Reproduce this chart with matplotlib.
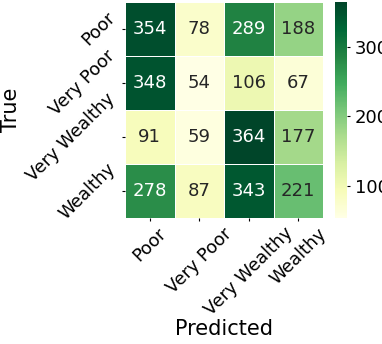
import matplotlib
matplotlib.use("Agg")
import matplotlib.pyplot as plt
import seaborn as sns
import numpy as np

labels = ["Poor", "Very Poor", "Very Wealthy", "Wealthy"]
row_poor = [354, 78, 289, 188]
row_very_poor = [348, 54, 106, 67]
row_very_wealthy = [91, 59, 364, 177]
row_wealthy = [278, 87, 343, 221]
matrix = np.array([row_poor, row_very_poor, row_very_wealthy, row_wealthy])

fig = plt.figure(figsize=(3.82, 3.44), dpi=100)
ax = fig.add_axes([125 / 382, 1 - 218 / 344, 198 / 382, 216 / 344])
cax = fig.add_axes([335 / 382, 1 - 218 / 344, 12 / 382, 216 / 344])
sns.heatmap(matrix, annot=True, fmt="d", cmap="YlGn", ax=ax, cbar_ax=cax,
            linewidths=0.5, linecolor="white",
            xticklabels=labels, yticklabels=labels,
            annot_kws={"size": 13})
ax.set_xticklabels(labels, rotation=45, fontsize=12.7)
ax.set_yticklabels(labels, rotation=45, fontsize=12.7)
ax.tick_params(length=2, pad=2.5)
ax.set_xlabel("Predicted", fontsize=15, labelpad=0)
ax.set_ylabel("True", fontsize=15, labelpad=2)
cax.tick_params(labelsize=13, length=2)
cax.set_yticks([100, 200, 300])
fig.savefig("out.png", dpi=100)
